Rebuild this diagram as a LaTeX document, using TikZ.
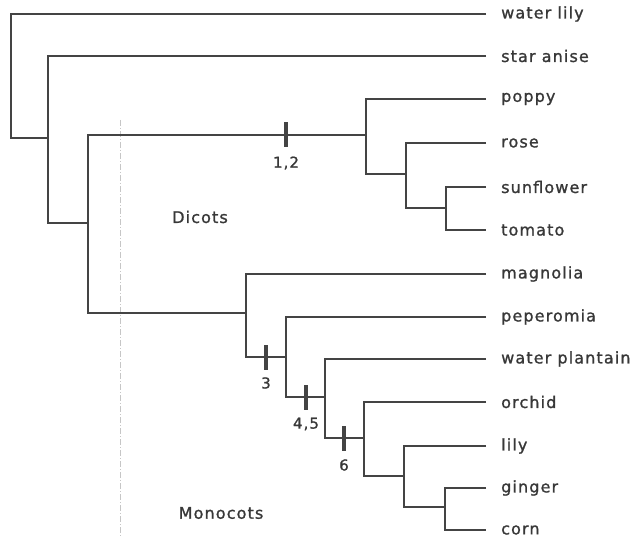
\documentclass[tikz,border=0pt]{standalone}
\usepackage{fontspec}
\setmainfont{DejaVu Sans}[LetterSpace=7,FakeBold=1.2]
\definecolor{ink}{HTML}{444444}
\definecolor{txt}{HTML}{383838}
\begin{document}
\begin{tikzpicture}[x=1pt,y=-1pt,
  branch/.style={draw=ink,line width=2pt,line join=miter},
  leaf/.style={anchor=west,inner xsep=15pt,inner ysep=0pt,text=txt,font=\fontsize{16}{19}\selectfont},
  tickmark/.style={fill=ink,inner sep=0pt,minimum width=3.2pt,minimum height=25pt},
  ticklabel/.style={text=txt,font=\fontsize{15}{17}\selectfont,inner sep=0pt},
  group/.style={text=txt,font=\fontsize{16}{19}\selectfont,inner sep=0pt}]
\useasboundingbox (0,0) rectangle (634,537);
% dash-dot guide line
\draw[gray!45,line width=0.6pt,dash pattern=on 6pt off 2pt on 1pt off 2pt] (120,120) -- (120,537);
% leaves
\node[leaf] (wl) at (486,14) {water lily};
\node[leaf] (sa) at (486,56) {star anise};
\node[leaf] (po) at (486,99) {poppy};
\node[leaf] (ro) at (486,143) {rose};
\node[leaf] (su) at (486,187) {sunflower};
\node[leaf] (to) at (486,230) {tomato};
\node[leaf] (ma) at (486,274) {magnolia};
\node[leaf] (pe) at (486,317) {peperomia};
\node[leaf] (wp) at (486,359) {water plantain};
\node[leaf] (or) at (486,402) {orchid};
\node[leaf] (li) at (486,446) {lily};
\node[leaf] (gi) at (486,488) {ginger};
\node[leaf] (co) at (486,530) {corn};
% internal nodes
\coordinate (r)  at (11,76);
\coordinate (n2) at (48,138);
\coordinate (n3) at (88,223);
\coordinate (d1) at (366,135);
\coordinate (d2) at (406,174);
\coordinate (d3) at (446,208);
\coordinate (m1) at (246,313);
\coordinate (m2) at (286,357);
\coordinate (m3) at (325,397);
\coordinate (m4) at (364,438);
\coordinate (m5) at (404,476);
\coordinate (m6) at (445,507);
% branches
\draw[branch] (wl.west) -| (r) |- (n2);
\draw[branch] (sa.west) -| (n2) |- (n3);
\draw[branch] (d1) -| (n3) |- (m1);
\draw[branch] (po.west) -| (d1) |- (d2);
\draw[branch] (ro.west) -| (d2) |- (d3);
\draw[branch] (su.west) -| (d3) |- (to.west);
\draw[branch] (ma.west) -| (m1) |- (m2);
\draw[branch] (pe.west) -| (m2) |- (m3);
\draw[branch] (wp.west) -| (m3) |- (m4);
\draw[branch] (or.west) -| (m4) |- (m5);
\draw[branch] (li.west) -| (m5) |- (m6);
\draw[branch] (gi.west) -| (m6) |- (co.west);
% character ticks
\node[tickmark] (t12) at (286,135) {};
\node[ticklabel] (l12) at (286,163) {1,2};
\node[tickmark] (t3) at (266,357) {};
\node[ticklabel] (l3) at (266,383) {3};
\node[tickmark] (t45) at (306,397) {};
\node[ticklabel] (l45) at (306,424) {4,5};
\node[tickmark] (t6) at (344,438) {};
\node[ticklabel] (l6) at (344,465) {6};
% group labels
\node[group] (dic) at (200,217) {Dicots};
\node[group] (mon) at (221,513) {Monocots};
\end{tikzpicture}
\end{document}
